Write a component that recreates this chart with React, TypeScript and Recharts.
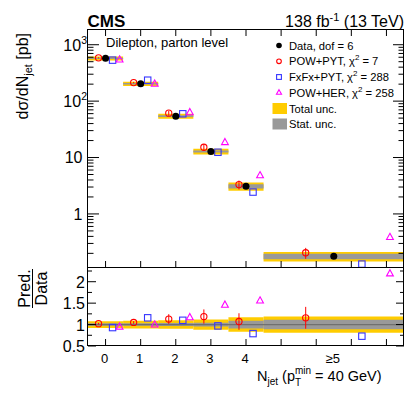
import React from 'react';
import { ComposedChart, Scatter, XAxis, YAxis, ReferenceArea, ReferenceLine, ErrorBar } from 'recharts';

// N_jet bins (last bin is drawn 4 units wide)
const binLabels = ['0', '1', '2', '3', '4', '≥5'];
const binLow = [-0.5, 0.5, 1.5, 2.5, 3.5, 4.5];
const binHigh = [0.5, 1.5, 2.5, 3.5, 4.5, 8.5];

// measured cross section [pb] and relative uncertainties
const dataXsec = [573, 203, 54.2, 12.8, 3.09, 0.177];
const totUnc = [0.08, 0.09, 0.1, 0.12, 0.17, 0.19];
const statUnc = [0.03, 0.03, 0.035, 0.045, 0.09, 0.11];

// predictions [pb]
const powPyt = [585, 213, 61.2, 15.2, 3.31, 0.205];
const powPytErr = [0.02, 0.03, 0.1, 0.14, 0.18, 0.22];
const fxfxPyt = [533, 235, 59.6, 12.4, 2.44, 0.129];
const powHer = [544, 203, 63.4, 18.7, 4.82, 0.388];

const xTicks = [0, 1, 2, 3, 4, 5, 6, 6.5, 7, 8];
const upperTicks = [0.1, 1, 10, 100].flatMap((d) => [2, 3, 4, 5, 6, 7, 8, 9, 10].map((k) => +(k * d).toPrecision(3)));
const upperMajor = [1, 10, 100, 1000];
const lowerTicks = [0.5, 0.75, 1, 1.25, 1.5, 1.75, 2, 2.25];
const lowerMajor = [0.5, 1, 1.5, 2];

const FONT = '"Liberation Sans", Arial, Helvetica, sans-serif';
const PW = 316;
const PH_UP = 239;

const center = (i: number) => (binLow[i] + binHigh[i]) / 2;
const width = (i: number) => binHigh[i] - binLow[i];

const points = (vals: number[], off: number, ratio: boolean, err?: number[]) =>
  vals.map((v, i) => {
    const y = ratio ? v / dataXsec[i] : v;
    return { x: center(i) + off * width(i), y, e: err ? y * err[i] : 0 };
  });

const series = [
  { name: 'POW+PYT', chi2: '7', vals: powPyt, off: -0.2, color: '#ff0000', kind: 'circle', err: powPytErr },
  { name: 'FxFx+PYT', chi2: '288', vals: fxfxPyt, off: 0.2, color: '#3535ff', kind: 'square' },
  { name: 'POW+HER', chi2: '258', vals: powHer, off: 0.4, color: '#ff00ff', kind: 'triangle' },
];

function Marker({ cx, cy, kind, color, s = 1 }: { cx: number; cy: number; kind: string; color: string; s?: number }) {
  if (kind === 'data') return <circle cx={cx} cy={cy} r={3.5 * s} fill="#000" />;
  if (kind === 'circle') return <circle cx={cx} cy={cy} r={3.1 * s} fill="none" stroke={color} strokeWidth={1.1} />;
  if (kind === 'square')
    return <rect x={cx - 3.2 * s} y={cy - 3.2 * s} width={6.4 * s} height={6.4 * s} fill="none" stroke={color} strokeWidth={1.1} />;
  return (
    <polygon
      points={`${cx},${cy - 3.8 * s} ${cx + 3.4 * s},${cy + 2.4 * s} ${cx - 3.4 * s},${cy + 2.4 * s}`}
      fill="none"
      stroke={color}
      strokeWidth={1.1}
    />
  );
}

function UpperYTick(p: any) {
  const { x, y, payload } = p;
  const v = payload.value;
  const major = upperMajor.includes(v);
  const len = major ? 11 : 5.5;
  let label: React.ReactNode = null;
  if (v === 1 || v === 10) {
    label = (
      <text x={x - 5.5} y={y + 5.8} textAnchor="end" fontSize={16} fontFamily={FONT} fill="#000">
        {String(v)}
      </text>
    );
  } else if (v === 100 || v === 1000) {
    label = (
      <text x={x - 1} y={y + 5.8} textAnchor="end" fontSize={16} fontFamily={FONT} fill="#000">
        10<tspan dy={-7} fontSize={10.5}>{v === 100 ? '2' : '3'}</tspan>
      </text>
    );
  }
  return (
    <g>
      <line x1={x} x2={x + len} y1={y} y2={y} stroke="#000" />
      <line x1={x + PW} x2={x + PW - len} y1={y} y2={y} stroke="#000" />
      {label}
    </g>
  );
}

function LowerYTick(p: any) {
  const { x, y, payload } = p;
  const v = payload.value;
  const major = lowerMajor.includes(v);
  const len = major ? 8 : 4;
  return (
    <g>
      <line x1={x} x2={x + len} y1={y} y2={y} stroke="#000" />
      <line x1={x + PW} x2={x + PW - len} y1={y} y2={y} stroke="#000" />
      {major && (
        <text x={x - 3} y={y + 6} textAnchor="end" fontSize={16} fontFamily={FONT} fill="#000">
          {String(v)}
        </text>
      )}
    </g>
  );
}

function UpperXTick(p: any) {
  const { x, y, payload } = p;
  if (!Number.isInteger(payload.value)) return <g />;
  return (
    <g>
      <line x1={x} x2={x} y1={y} y2={y - 7} stroke="#000" />
      <line x1={x} x2={x} y1={y - PH_UP} y2={y - PH_UP + 7} stroke="#000" />
    </g>
  );
}

function LowerXTick(p: any) {
  const { x, y, payload } = p;
  const v = payload.value;
  const bi = binLow.findIndex((_, i) => center(i) === v);
  return (
    <g>
      {Number.isInteger(v) && <line x1={x} x2={x} y1={y} y2={y - 7} stroke="#000" />}
      {bi >= 0 && (
        <text x={x - 1} y={y + 17.3} textAnchor="middle" fontSize={13} fontFamily={FONT} fill="#000">
          {binLabels[bi]}
        </text>
      )}
    </g>
  );
}

function Bands({ ratio }: { ratio: boolean }) {
  return (
    <>
      {dataXsec.map((v, i) => {
        const c = ratio ? 1 : v;
        return (
          <ReferenceArea
            key={'t' + i}
            x1={binLow[i]}
            x2={binHigh[i]}
            y1={c * (1 - totUnc[i])}
            y2={c * (1 + totUnc[i])}
            fill="#ffcc00"
            fillOpacity={1}
            stroke="none"
            ifOverflow="hidden"
          />
        );
      })}
      {dataXsec.map((v, i) => {
        const c = ratio ? 1 : v;
        return (
          <ReferenceArea
            key={'s' + i}
            x1={binLow[i]}
            x2={binHigh[i]}
            y1={c * (1 - statUnc[i])}
            y2={c * (1 + statUnc[i])}
            fill="#999999"
            fillOpacity={1}
            stroke="none"
            ifOverflow="hidden"
          />
        );
      })}
    </>
  );
}

function Series({ ratio }: { ratio: boolean }) {
  return (
    <>
      {series.map((s) => (
        <Scatter
          key={s.name}
          data={points(s.vals, s.off, ratio, s.err)}
          isAnimationActive={false}
          shape={(p: any) => <Marker cx={p.cx} cy={p.cy} kind={s.kind} color={s.color} />}
        >
          {s.err && <ErrorBar dataKey="e" direction="y" width={0} stroke={s.color} strokeWidth={1} />}
        </Scatter>
      ))}
      {!ratio && (
        <Scatter
          data={points(dataXsec, 0, false)}
          isAnimationActive={false}
          shape={(p: any) => <Marker cx={p.cx} cy={p.cy} kind="data" color="#000" />}
        />
      )}
    </>
  );
}

export default function App() {
  const t = { fontFamily: FONT, fill: '#000' };
  const legendRows = [45.5, 61.3, 77, 92.5, 108.5, 124];
  return (
    <div style={{ position: 'absolute', left: 0, top: 0, width: 407, height: 394, background: '#fff' }}>
      <div style={{ position: 'absolute', left: 0, top: 0 }}>
        <ComposedChart width={407} height={270} margin={{ top: 29, right: 3, bottom: 1, left: 0 }}>
          <XAxis
            type="number"
            dataKey="x"
            domain={[-0.5, 8.5]}
            ticks={xTicks}
            interval={0}
            height={1}
            axisLine={false}
            tickLine={false}
            tickSize={0}
            tickMargin={0}
            tick={UpperXTick}
            allowDataOverflow
          />
          <YAxis
            type="number"
            dataKey="y"
            scale="log"
            domain={[0.11, 1900]}
            ticks={upperTicks}
            interval={0}
            width={88}
            axisLine={false}
            tickLine={false}
            tickSize={0}
            tickMargin={0}
            tick={UpperYTick}
            allowDataOverflow
          />
          {Bands({ ratio: false })}
          {Series({ ratio: false })}
        </ComposedChart>
      </div>
      <div style={{ position: 'absolute', left: 0, top: 262 }}>
        <ComposedChart width={407} height={132} margin={{ top: 6, right: 3, bottom: 0, left: 0 }}>
          <XAxis
            type="number"
            dataKey="x"
            domain={[-0.5, 8.5]}
            ticks={xTicks}
            interval={0}
            height={48}
            axisLine={false}
            tickLine={false}
            tickSize={0}
            tickMargin={0}
            tick={LowerXTick}
            allowDataOverflow
          />
          <YAxis
            type="number"
            dataKey="y"
            domain={[0.5, 2.32]}
            ticks={lowerTicks}
            interval={0}
            width={88}
            axisLine={false}
            tickLine={false}
            tickSize={0}
            tickMargin={0}
            tick={LowerYTick}
            allowDataOverflow
          />
          {Bands({ ratio: true })}
          <ReferenceLine y={1} stroke="#707070" strokeWidth={1.3} />
          {Series({ ratio: true })}
        </ComposedChart>
      </div>
      <svg width={407} height={394} style={{ position: 'absolute', left: 0, top: 0, pointerEvents: 'none' }}>
        <rect x={87.5} y={29.5} width={316} height={238} fill="none" stroke="#000" />
        <rect x={87.5} y={267.5} width={316} height={78} fill="none" stroke="#000" />

        <text x={87.5} y={26.5} fontSize={17} fontWeight="bold" {...t}>CMS</text>
        <text x={404} y={26.5} fontSize={16} textAnchor="end" {...t}>
          138 fb<tspan dy={-6} fontSize={11}>-1</tspan>
          <tspan dy={6}> (13 TeV)</tspan>
        </text>
        <text x={106} y={46.5} fontSize={13} {...t}>Dilepton, parton level</text>

        <text transform="translate(28,33) rotate(-90)" textAnchor="end" fontSize={16} {...t}>
          dσ/dN<tspan dy={4} fontSize={11}>jet</tspan>
          <tspan dy={-4}> [pb]</tspan>
        </text>

        <text transform="translate(29.5,288.5) rotate(-90)" textAnchor="middle" fontSize={16} {...t}>Pred.</text>
        <line x1={32.5} x2={32.5} y1={269} y2={308} stroke="#000" strokeWidth={1} />
        <text transform="translate(46.5,288.5) rotate(-90)" textAnchor="middle" fontSize={16} {...t}>Data</text>

        <text x={257} y={381} fontSize={14.5} {...t}>
          N<tspan dy={4} fontSize={10}>jet</tspan>
          <tspan dy={-4}> (p</tspan>
          <tspan dy={5} fontSize={10}>T</tspan>
          <tspan dx={-6.1} dy={-12.5} fontSize={10}>min</tspan>
          <tspan dy={7.5}> = 40 GeV)</tspan>
        </text>

        {/* legend */}
        <Marker cx={279} cy={legendRows[0]} kind="data" color="#000" s={0.8} />
        <text x={289} y={legendRows[0] + 4} fontSize={11.2} {...t}>Data, dof = 6</text>
        {series.map((s, k) => (
          <g key={s.name}>
            <Marker cx={279} cy={legendRows[k + 1]} kind={s.kind} color={s.color} s={0.75} />
            <text x={289} y={legendRows[k + 1] + 4} fontSize={11.2} {...t}>
              {s.name}, χ<tspan dy={-5} fontSize={8}>2</tspan>
              <tspan dy={5}> = {s.chi2}</tspan>
            </text>
          </g>
        ))}
        <rect x={272.5} y={legendRows[4] - 5.5} width={14.5} height={11} fill="#ffcc00" />
        <text x={289} y={legendRows[4] + 4} fontSize={11.2} {...t}>Total unc.</text>
        <rect x={272.5} y={legendRows[5] - 5.5} width={14.5} height={11} fill="#999999" />
        <text x={289} y={legendRows[5] + 4} fontSize={11.2} {...t}>Stat. unc.</text>
      </svg>
    </div>
  );
}
